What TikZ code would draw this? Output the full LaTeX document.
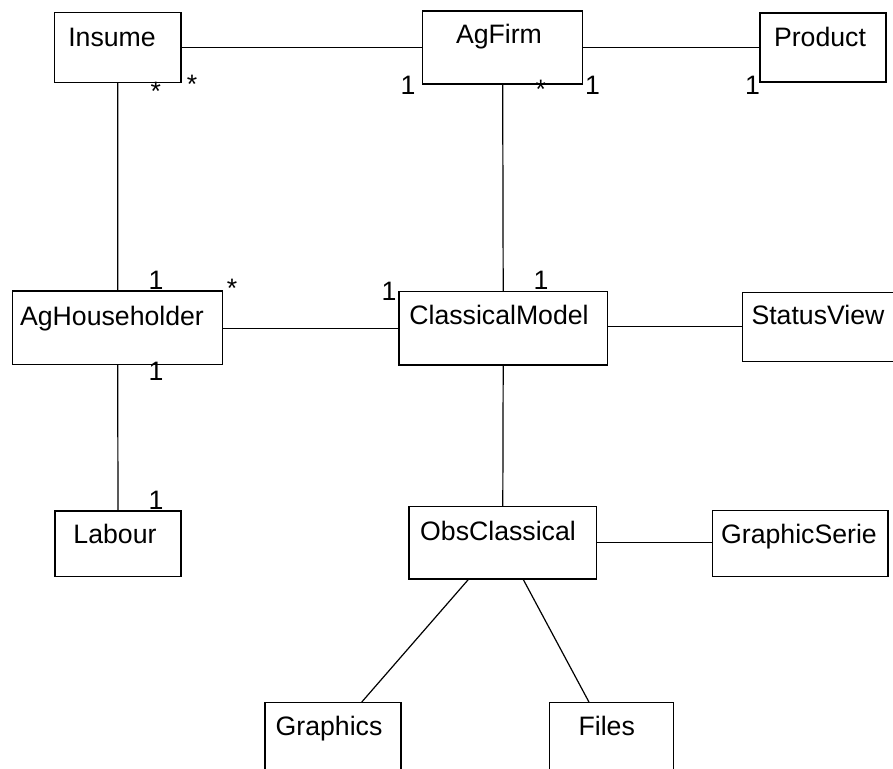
\documentclass[tikz,border=0pt]{standalone}
\usepackage{fontspec}
\setmainfont{Liberation Sans}
\usetikzlibrary{calc}
\tikzset{
  cls/.style={draw=black, line width=0.9pt, fill=none, inner sep=0pt},
  ttl/.style={anchor=base, inner sep=0pt, font=\fontsize{20}{24}\selectfont},
  mult/.style={anchor=base, inner sep=0pt, font=\fontsize{20}{24}\selectfont},
  assoc/.style={draw=black, line width=0.9pt}
}
\begin{document}
\begin{tikzpicture}[x=0.75pt, y=-0.75pt]
  \clip (0,0) rectangle (893,768);
  \fill[white] (0,0) rectangle (893,768);

  % class boxes
  \node[cls, minimum width=126.5*0.75pt, minimum height=69.6*0.75pt] (insume) at (117.75,47.5) {};
  \node[cls, minimum width=160*0.75pt,   minimum height=73*0.75pt]   (agfirm) at (502.7,47.5) {};
  \node[cls, minimum width=126*0.75pt,   minimum height=69*0.75pt]   (product) at (823,47.5) {};
  \node[cls, minimum width=210*0.75pt,   minimum height=73.3*0.75pt] (hh) at (117.7,327.7) {};
  \node[cls, minimum width=208.3*0.75pt, minimum height=73.3*0.75pt] (cm) at (503.2,328.3) {};
  \node[cls, minimum width=220*0.75pt,   minimum height=69*0.75pt]   (status) at (852.7,327.2) {};
  \node[cls, minimum width=126*0.75pt,   minimum height=65.7*0.75pt] (labour) at (118,543.8) {};
  \node[cls, minimum width=187.7*0.75pt, minimum height=72.3*0.75pt] (obs) at (502.8,542.8) {};
  \node[cls, minimum width=175.3*0.75pt, minimum height=66*0.75pt]   (gserie) at (800.3,543.7) {};
  \node[cls, minimum width=136*0.75pt,   minimum height=80*0.75pt]   (graphics) at (333,742.7) {};
  \node[cls, minimum width=124*0.75pt,   minimum height=80*0.75pt]   (files) at (611.3,742.7) {};

  % class names
  \node[ttl] (insumeT) at (112,46) {Insume};
  \node[ttl] (agfirmT) at (499,43.5) {AgFirm};
  \node[ttl] (productT) at (820,46) {Product};
  \node[ttl] (hhT) at (112,325) {AgHouseholder};
  \node[ttl] (cmT) at (499,324.3) {ClassicalModel};
  \node[ttl] (statusT) at (818,324) {StatusView};
  \node[ttl] (labourT) at (115,543.3) {Labour};
  \node[ttl] (obsT) at (498,540.7) {ObsClassical};
  \node[ttl] (gserieT) at (799,543.3) {GraphicSerie};
  \node[ttl] (graphicsT) at (329,735) {Graphics};
  \node[ttl] (filesT) at (606.7,735) {Files};

  % associations
  \draw[assoc] (insume.east) -- (insume.east -| agfirm.west);
  \draw[assoc] (agfirm.east) -- (agfirm.east -| product.west);
  \draw[assoc] (insume.south) -- (hh.north);
  \draw[assoc] (hh.south) -- (labour.north);
  \draw[assoc] (agfirm.south) -- (cm.north);
  \draw[assoc] ([yshift=-0.75pt]hh.east) -- ([yshift=-0.75pt]hh.east -| cm.west);
  \draw[assoc] ([yshift=1.2pt]cm.east) -- ([yshift=1.2pt]cm.east -| status.west);
  \draw[assoc] (cm.south) -- (obs.north);
  \draw[assoc] (obs.east) -- (obs.east -| gserie.west);
  \draw[assoc] ($(obs.south)+(-34.5,0)$) -- ($(graphics.north)+(28.7,0)$);
  \draw[assoc] ($(obs.south)+(20.5,0)$) -- ($(files.north)+(-22.3,0)$);

  % multiplicities
  \node[mult] (m1) at (155.7,100.5) {*};
  \node[mult] (m2) at (192,93.5) {*};
  \node[mult] (m3) at (408,94) {1};
  \node[mult] (m4) at (540.7,98) {*};
  \node[mult] (m5) at (592.5,94) {1};
  \node[mult] (m6) at (752.5,94) {1};
  \node[mult] (m7) at (156,289) {1};
  \node[mult] (m8) at (232,297.5) {*};
  \node[mult] (m9) at (389,300) {1};
  \node[mult] (m10) at (541,289) {1};
  \node[mult] (m11) at (156,380.7) {1};
  \node[mult] (m12) at (156,509) {1};
\end{tikzpicture}
\end{document}
